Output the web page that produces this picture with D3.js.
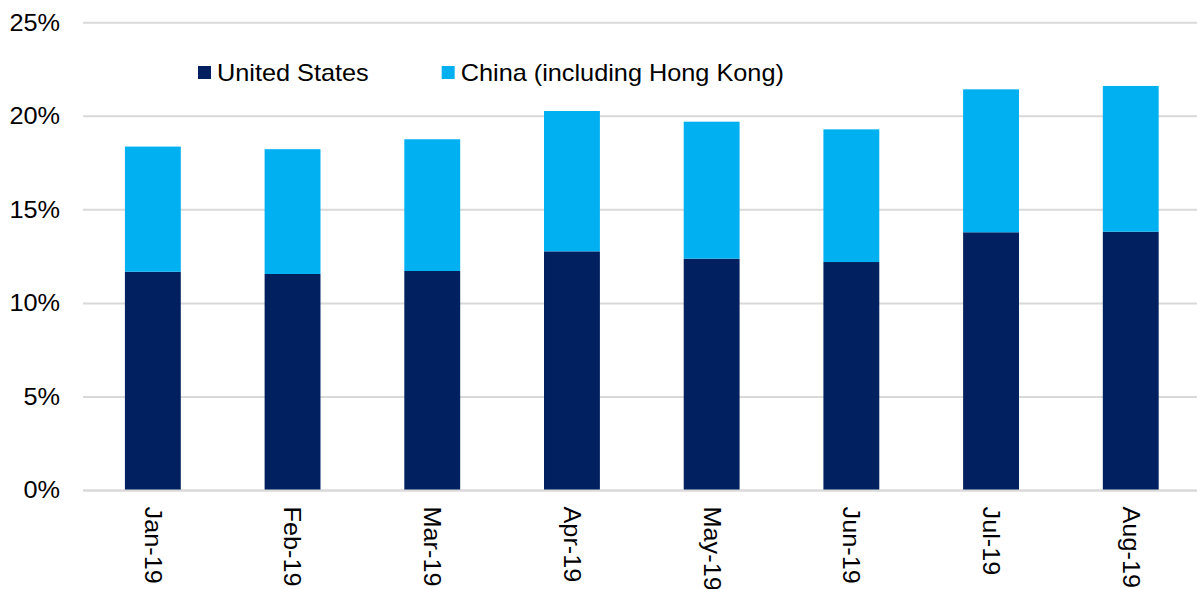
<!DOCTYPE html>
<html>
<head>
<meta charset="utf-8">
<script src="https://cdn.jsdelivr.net/npm/d3@7"></script>
<style>
  html, body { margin: 0; padding: 0; background: #fff; }
  svg { display: block; }
  text { font-family: Arial, "Liberation Sans", sans-serif; fill: #000; }
</style>
</head>
<body>
<svg id="chart" width="1197" height="589"></svg>
<script>
// Monthly share (%) by destination
const months = ["Jan-19", "Feb-19", "Mar-19", "Apr-19", "May-19", "Jun-19", "Jul-19", "Aug-19"];
const unitedStates = [11.69, 11.57, 11.73, 12.78, 12.39, 12.21, 13.80, 13.83];
const china = [6.69, 6.67, 7.04, 7.50, 7.32, 7.09, 7.64, 7.79];
const seriesNames = ["United States", "China (including Hong Kong)"];
const seriesColors = ["#002060", "#00B0F0"];
const yTicks = [0, 5, 10, 15, 20, 25];

const svg = d3.select("#chart");
const plotLeft = 83, plotRight = 1200.6, plotTop = 22.7, plotBottom = 490.5;
const fontSize = "23px";
const widen = "scale(1.1,1)";   // slightly wide lettering

const x = d3.scaleBand().domain(months).range([plotLeft, plotRight])
  .paddingInner(0.6).paddingOuter(0.3);
const y = d3.scaleLinear().domain([0, 25]).range([plotBottom, plotTop]);

// Gridlines
svg.append("g").selectAll("line").data(yTicks).join("line")
  .attr("x1", plotLeft).attr("x2", 1197)
  .attr("y1", d => y(d)).attr("y2", d => y(d))
  .attr("stroke", "#d9d9d9").attr("stroke-width", 2);

// Y axis labels
const yAxis = d3.axisLeft(y).tickValues(yTicks).tickFormat(d => d + "%").tickSize(0).tickPadding(0);
const gy = svg.append("g").attr("transform", `translate(60,0)`).call(yAxis);
gy.select(".domain").remove();
gy.selectAll("text").style("font-size", fontSize).attr("fill", "#000")
  .attr("font-family", "Arial, 'Liberation Sans', sans-serif")
  .attr("transform", widen);

// Stacked bars
const rows = months.map((m, i) => ({ month: m, us: unitedStates[i], cn: china[i] }));
const stack = d3.stack().keys(["us", "cn"])(rows);
svg.append("g").selectAll("g").data(stack).join("g")
  .attr("fill", (d, i) => seriesColors[i])
  .selectAll("rect").data(d => d).join("rect")
  .attr("x", d => x(d.data.month))
  .attr("width", x.bandwidth())
  .attr("y", d => y(d[1]))
  .attr("height", d => y(d[0]) - y(d[1]));

// Baseline
svg.append("line").attr("x1", plotLeft).attr("x2", 1197)
  .attr("y1", y(0)).attr("y2", y(0))
  .attr("stroke", "#d9d9d9").attr("stroke-width", 2);

// X axis labels, rotated
const xAxis = d3.axisBottom(x).tickSize(0).tickPadding(0);
const gx = svg.append("g").attr("transform", `translate(0,${y(0) + 16})`).call(xAxis);
gx.select(".domain").remove();
gx.selectAll("text")
  .style("font-size", fontSize).attr("fill", "#000")
  .attr("font-family", "Arial, 'Liberation Sans', sans-serif")
  .attr("text-anchor", "start")
  .attr("dy", "0.35em")
  .attr("y", 0)
  .attr("transform", "rotate(90) " + widen);

// Legend
const legendPos = [198, 441.7];
const legend = svg.append("g").selectAll("g").data(seriesNames).join("g")
  .attr("transform", (d, i) => `translate(${legendPos[i]},66)`);
legend.append("rect").attr("width", 13).attr("height", 13)
  .attr("fill", (d, i) => seriesColors[i]);
legend.append("text").attr("transform", "translate(19,15) " + widen)
  .style("font-size", fontSize).text(d => d);
</script>
</body>
</html>
